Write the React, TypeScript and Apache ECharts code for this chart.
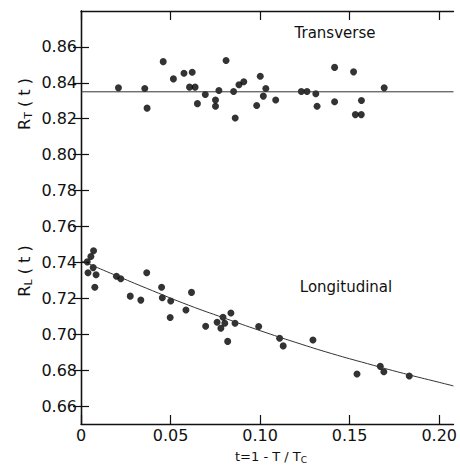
import React, { useEffect, useRef } from "react";
import * as echarts from "echarts";

const xTicks = [0, 0.05, 0.1, 0.15, 0.2];
const yTicks = [0.66, 0.68, 0.7, 0.72, 0.74, 0.76, 0.78, 0.8, 0.82, 0.84, 0.86];

const transverse: [number, number][] = [
  [0.0209, 0.8372], [0.0356, 0.8368], [0.0369, 0.8259], [0.0459, 0.8518],
  [0.0516, 0.8422], [0.0575, 0.8453], [0.0621, 0.8459], [0.0606, 0.8376],
  [0.0637, 0.8376], [0.065, 0.8284], [0.0694, 0.8335], [0.0751, 0.8304],
  [0.0751, 0.827], [0.077, 0.8357], [0.081, 0.8524], [0.0852, 0.8352],
  [0.0861, 0.8204], [0.0882, 0.8389], [0.0909, 0.8406], [0.1001, 0.8437],
  [0.1032, 0.8368], [0.1018, 0.8326], [0.0981, 0.8274], [0.1087, 0.8304],
  [0.123, 0.8352], [0.1262, 0.8352], [0.1311, 0.8339], [0.1318, 0.827],
  [0.1416, 0.8486], [0.1416, 0.8295], [0.1522, 0.8461], [0.1566, 0.8302],
  [0.1532, 0.8223], [0.1565, 0.8223], [0.1693, 0.8372],
];

const longitudinal: [number, number][] = [
  [0.0035, 0.7403], [0.0055, 0.7433], [0.007, 0.7465], [0.0039, 0.7342],
  [0.0068, 0.7371], [0.0084, 0.7331], [0.0077, 0.7262], [0.0198, 0.7323],
  [0.0222, 0.7309], [0.0367, 0.7342], [0.0275, 0.7212], [0.0334, 0.719],
  [0.045, 0.7262], [0.0454, 0.7203], [0.0501, 0.7185], [0.0498, 0.7093],
  [0.0617, 0.7233], [0.0586, 0.7135], [0.0696, 0.7044], [0.076, 0.7067],
  [0.0781, 0.7033], [0.0793, 0.7094], [0.0803, 0.7061], [0.0837, 0.7118],
  [0.086, 0.7061], [0.0819, 0.696], [0.0992, 0.7043], [0.1109, 0.6978],
  [0.1129, 0.6935], [0.1295, 0.6968], [0.1541, 0.6778], [0.1671, 0.6821],
  [0.1691, 0.6791], [0.1833, 0.6767],
];

const transverseFit: [number, number][] = [[0, 0.835], [0.208, 0.835]];

const longitudinalFit: [number, number][] = [
  [0, 0.741], [0.02, 0.7325], [0.04, 0.7242], [0.06, 0.7162], [0.08, 0.709],
  [0.1, 0.702], [0.12, 0.6954], [0.14, 0.6892], [0.16, 0.6836], [0.18, 0.6782],
  [0.2, 0.6732], [0.208, 0.6712],
];

const FONT = "DejaVu Sans";
const INK = "#111";

export default function App() {
  const ref = useRef<HTMLDivElement>(null);
  useEffect(() => {
    if (!ref.current) return;
    const chart = echarts.init(ref.current, undefined, { renderer: "svg" });
    const fmt = (v: number) => (v === 0 ? "0" : v.toFixed(2));
    const axisLine = { show: true, lineStyle: { color: INK, width: 1.3 } };
    const xBase = {
      type: "value" as const,
      min: 0,
      max: 0.208,
      axisLine,
      splitLine: { show: false },
      axisTick: { inside: true, length: 9, customValues: xTicks, lineStyle: { color: INK, width: 1.2 } },
    };
    const yBase = {
      type: "value" as const,
      min: 0.65,
      max: 0.88,
      axisLine,
      splitLine: { show: false },
      axisTick: { inside: true, length: 8, customValues: yTicks, lineStyle: { color: INK, width: 1.2 } },
    };
    chart.setOption({
      animation: false,
      backgroundColor: "#fff",
      grid: { left: 81, right: 2, top: 11, bottom: 45, containLabel: false },
      xAxis: [
        {
          ...xBase,
          position: "bottom",
          axisLabel: { customValues: xTicks, formatter: fmt, margin: 3, color: INK, fontSize: 16, fontFamily: FONT },
        },
        { ...xBase, position: "top", axisLabel: { show: false } },
      ],
      yAxis: [
        {
          ...yBase,
          position: "left",
          axisLabel: { customValues: yTicks, formatter: fmt, margin: 4, color: INK, fontSize: 16, fontFamily: FONT },
        },
        { ...yBase, position: "right", axisLabel: { show: false } },
      ],
      series: [
        {
          type: "line",
          data: transverseFit,
          showSymbol: false,
          lineStyle: { color: "#333", width: 1 },
          silent: true,
        },
        {
          type: "line",
          data: longitudinalFit,
          smooth: true,
          showSymbol: false,
          lineStyle: { color: "#333", width: 1 },
          silent: true,
        },
        {
          type: "scatter",
          data: transverse,
          symbol: "circle",
          symbolSize: 7,
          itemStyle: { color: "#000" },
        },
        {
          type: "scatter",
          data: longitudinal,
          symbol: "circle",
          symbolSize: 7,
          itemStyle: { color: "#000" },
        },
      ],
      graphic: [
        {
          type: "text",
          x: 335,
          y: 33,
          style: { text: "Transverse", font: `15px "${FONT}"`, fill: INK, align: "center", verticalAlign: "middle" },
        },
        {
          type: "text",
          x: 346,
          y: 287,
          style: { text: "Longitudinal", font: `15px "${FONT}"`, fill: INK, align: "center", verticalAlign: "middle" },
        },
        {
          type: "text",
          x: 24,
          y: 104,
          rotation: Math.PI / 2,
          style: {
            text: "{a|R}{s|T}{a| ( t )}",
            align: "center",
            verticalAlign: "middle",
            fill: INK,
            rich: {
              a: { fontSize: 16, fontFamily: FONT, lineHeight: 20, fill: INK },
              s: { fontSize: 11, fontFamily: FONT, lineHeight: 20, verticalAlign: "bottom", fill: INK },
            },
          },
        },
        {
          type: "text",
          x: 24,
          y: 271,
          rotation: Math.PI / 2,
          style: {
            text: "{a|R}{s|L}{a| ( t )}",
            align: "center",
            verticalAlign: "middle",
            fill: INK,
            rich: {
              a: { fontSize: 16, fontFamily: FONT, lineHeight: 20, fill: INK },
              s: { fontSize: 11, fontFamily: FONT, lineHeight: 20, verticalAlign: "bottom", fill: INK },
            },
          },
        },
        {
          type: "text",
          x: 271,
          y: 456,
          style: {
            text: "{a|t=1 - T / T}{s|C}",
            align: "center",
            verticalAlign: "middle",
            fill: INK,
            rich: {
              a: { fontSize: 13, fontFamily: FONT, lineHeight: 16, fill: INK },
              s: { fontSize: 9, fontFamily: FONT, lineHeight: 16, verticalAlign: "bottom", fill: INK },
            },
          },
        },
      ],
    });
    return () => chart.dispose();
  }, []);
  return (
    <div
      ref={ref}
      style={{ position: "fixed", left: 0, top: 0, width: 460, height: 469, background: "#fff" }}
    />
  );
}
